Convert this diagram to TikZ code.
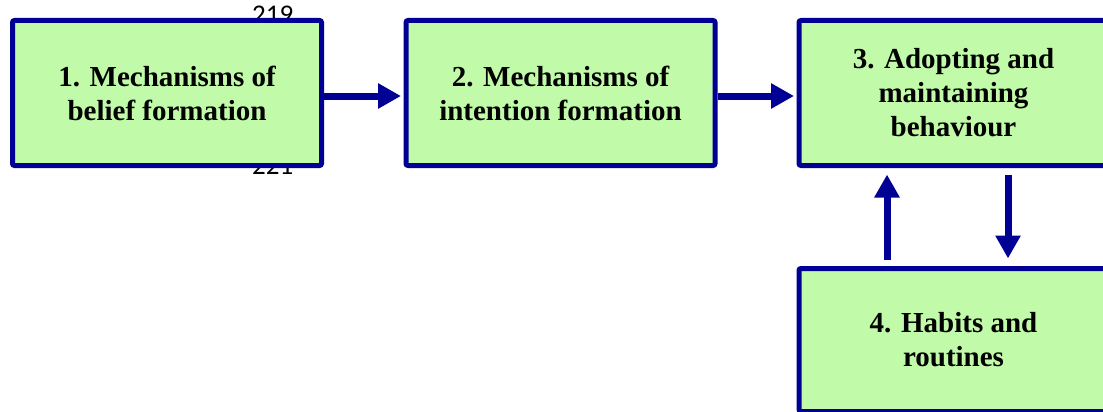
\documentclass[tikz,border=0pt]{standalone}
\usepackage{fontspec}
\setmainfont{Liberation Serif}
\newfontfamily\numfont{Carlito}
\usetikzlibrary{arrows.meta}
\definecolor{boxblue}{RGB}{0,0,148}
\definecolor{boxgreen}{RGB}{193,250,168}
\tikzset{
  stagebox/.style={draw=boxblue, fill=boxgreen, line width=5pt, rounded corners=2pt,
    minimum width=309pt, minimum height=145pt, align=center, inner sep=0pt,
    font=\fontsize{29}{34}\selectfont\bfseries},
  flowarrow/.style={draw=boxblue, line width=7pt,
    -{Triangle[length=23pt,width=24pt]}},
  linenum/.style={font=\numfont\fontsize{27}{30}\selectfont, inner sep=0pt, anchor=base west}
}
\begin{document}
\begin{tikzpicture}[x=1pt,y=1pt]
\clip (0,0) rectangle (1103,-412);
\fill[white] (0,0) rectangle (1103,-412);
\node[linenum] (n219) at (252,-24) {219};
\node[linenum] (n221) at (252,-174) {221};
\node[stagebox] (b1) at (167,-93) {1. Mechanisms of\\belief formation};
\node[stagebox] (b2) at (560.5,-93) {2. Mechanisms of\\intention formation};
\node[stagebox] (b3) at (953.5,-93) {3. Adopting and\\maintaining\\behaviour};
\node[stagebox, minimum height=143pt] (b4) at (953.5,-340) {4. Habits and\\routines};
\draw[flowarrow, shorten >=2.5pt] ([yshift=-3pt]b1.east) -- ([yshift=-3pt]b2.west);
\draw[flowarrow, shorten >=2.5pt] ([yshift=-3pt]b2.east) -- ([yshift=-3pt]b3.west);
\draw[flowarrow, shorten <=6.5pt, shorten >=6.5pt] ([xshift=-66.5pt]b4.north) -- ([xshift=-66.5pt]b3.south);
\draw[flowarrow, shorten <=6.5pt, shorten >=7.5pt] ([xshift=54.5pt]b3.south) -- ([xshift=54.5pt]b4.north);
\end{tikzpicture}
\end{document}
